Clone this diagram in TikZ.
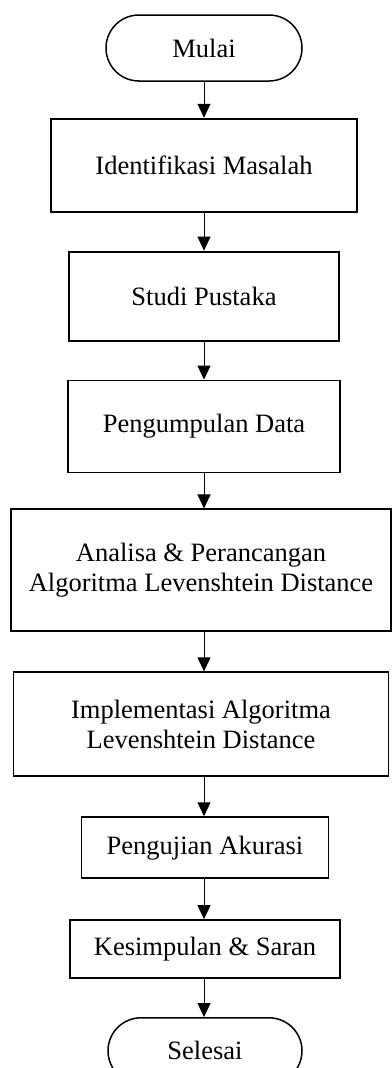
\documentclass[tikz,border=0pt]{standalone}
\usepackage{fontspec}
\setmainfont{Liberation Serif}
\usetikzlibrary{positioning, shapes.misc, arrows.meta}

\begin{document}
\begin{tikzpicture}
      [x=1pt, y=1pt,
      every node/.style={font=\fontsize{26.5}{30}\selectfont, align=center, inner sep=2pt},
      proses/.style={rectangle, draw=black, line width=1.9pt},
      terminal/.style={rounded rectangle, draw=black, line width=1.5pt,
        minimum width=200pt, minimum height=66pt},
      panah/.style={-{Triangle[width=13pt,length=14pt]}, line width=1pt},
      ]
      \useasboundingbox (0,0) rectangle (391,-1068);
      \node[terminal] (mulai) at (204,-48) {Mulai};
      \node[proses, below=36pt of mulai, minimum width=306pt, minimum height=93pt]
        (identifikasi) {Identifikasi Masalah};
      \node[proses, below=38pt of identifikasi, minimum width=270pt, minimum height=89pt]
        (studi) {Studi Pustaka};
      \node[proses, below=38pt of studi, minimum width=272pt, minimum height=92pt]
        (pengumpulan) {Pengumpulan Data};
      \node[proses, below=35pt of pengumpulan, xshift=-3pt, minimum width=380pt, minimum height=122pt]
        (analisa) {Analisa \& Perancangan\\Algoritma Levenshtein Distance};
      \node[proses, below=39pt of analisa, minimum width=375pt, minimum height=104pt]
        (implementasi) {Implementasi Algoritma\\Levenshtein Distance};
      \node[proses, below=39pt of implementasi, xshift=4pt, minimum width=247pt, minimum height=61pt]
        (pengujian) {Pengujian Akurasi};
      \node[proses, below=40pt of pengujian, minimum width=270pt, minimum height=58pt]
        (kesimpulan) {Kesimpulan \& Saran};
      \node[terminal, below=38pt of kesimpulan, minimum width=198pt] (selesai) {Selesai};

      \foreach \a/\b in {mulai/identifikasi, identifikasi/studi, studi/pengumpulan,
        pengumpulan/analisa, analisa/implementasi, implementasi/pengujian,
        pengujian/kesimpulan, kesimpulan/selesai}
        \draw[panah] (\a.south -| mulai) -- (\b.north -| mulai);
\end{tikzpicture}
\end{document}
